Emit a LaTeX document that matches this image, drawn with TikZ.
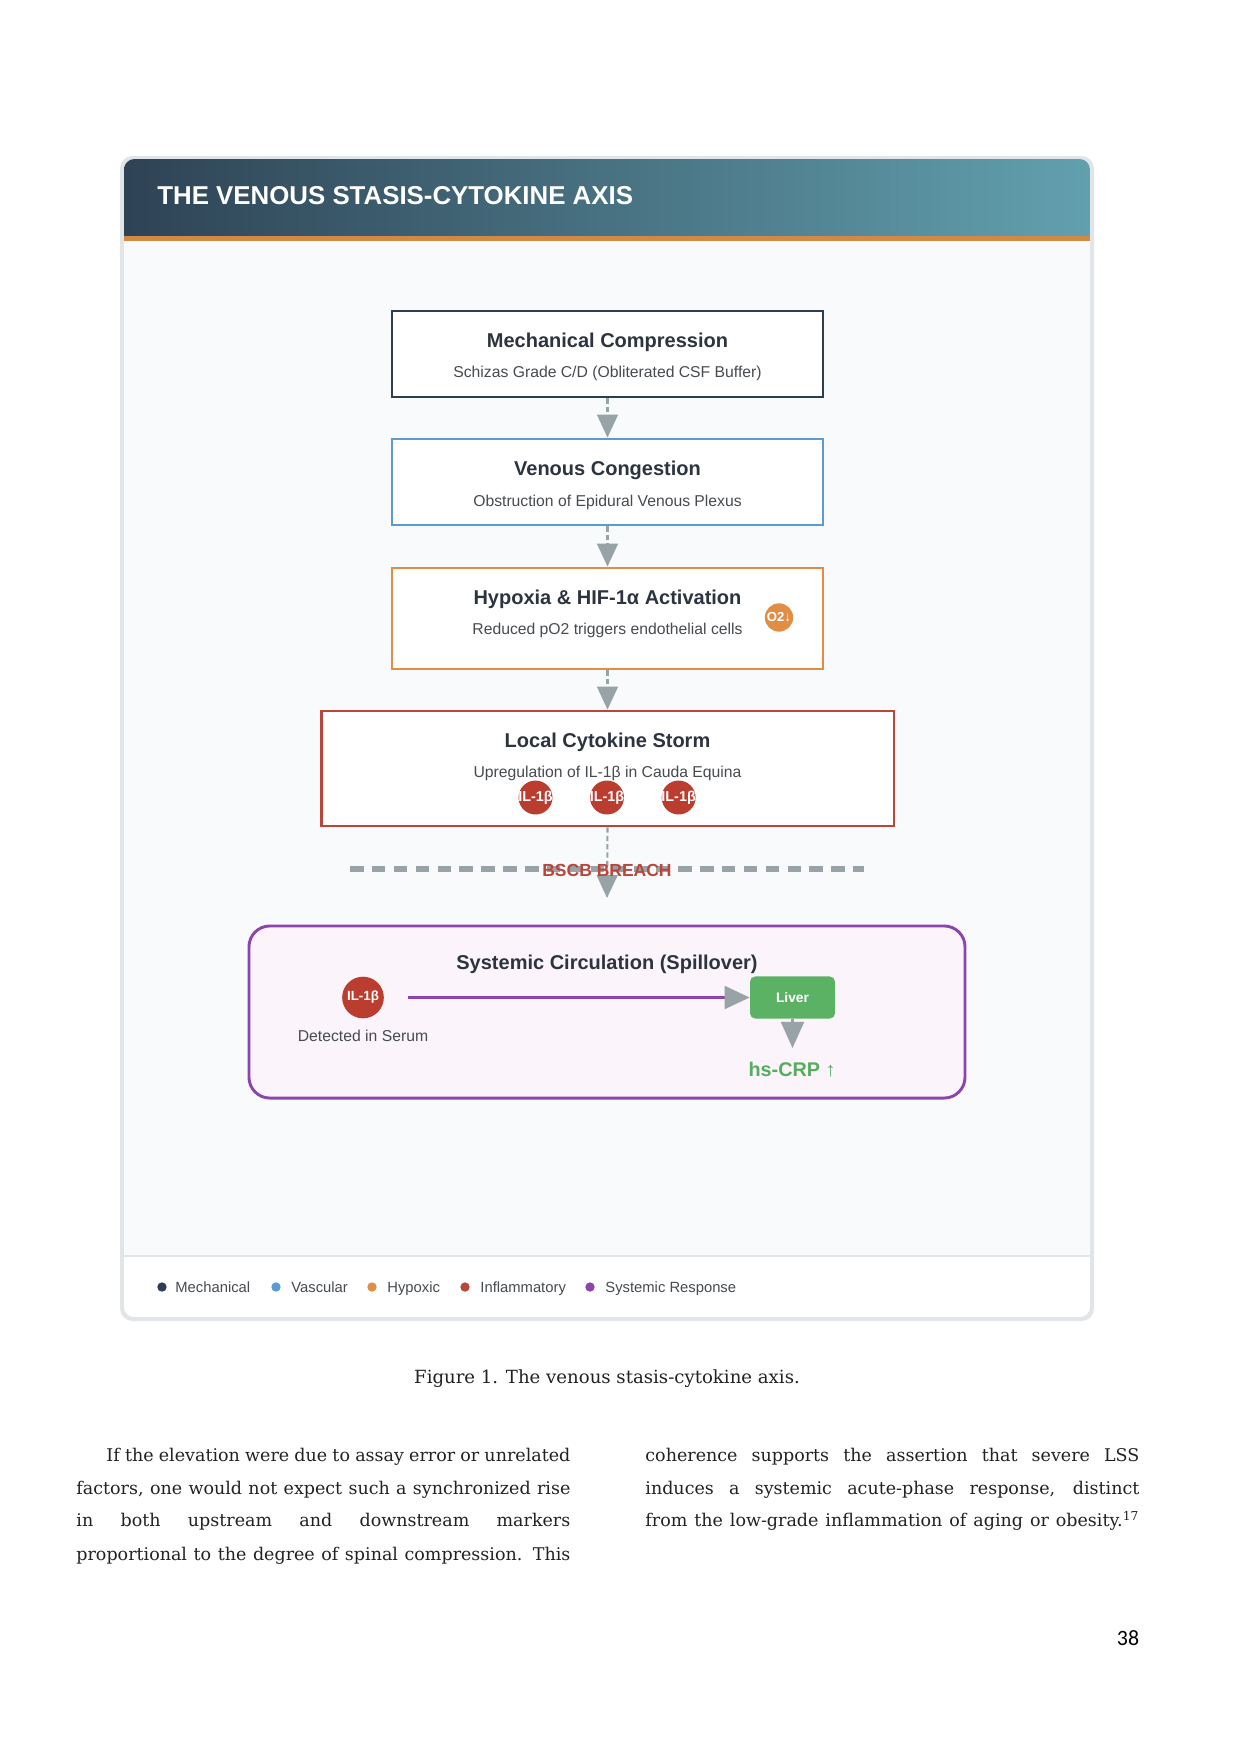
\documentclass[tikz,border=0pt]{standalone}
\usepackage{fontspec}
\setmainfont{Liberation Sans}
\newfontfamily\seriff{DejaVu Serif}
\newfontfamily\pagef{Carlito}
\usetikzlibrary{arrows.meta}
\definecolor{hdrL}{HTML}{2E4355}
\definecolor{hdrR}{HTML}{62A0AE}
\definecolor{hdrLine}{HTML}{D08A45}
\definecolor{cardBg}{HTML}{F8FAFC}
\definecolor{cardEdge}{HTML}{E2E5E8}
\definecolor{cMech}{HTML}{2C3E50}
\definecolor{cVasc}{HTML}{5A9BD5}
\definecolor{cHyp}{HTML}{E08E45}
\definecolor{cInfl}{HTML}{B9463B}
\definecolor{cIL}{HTML}{BB3D30}
\definecolor{cSys}{HTML}{8E44AD}
\definecolor{sysFill}{HTML}{FBF4FA}
\definecolor{cGreen}{HTML}{5BB264}
\definecolor{cCRP}{HTML}{55AE5E}
\definecolor{cArrow}{HTML}{97A3A6}
\definecolor{cTitle}{HTML}{2C3440}
\definecolor{cSub}{HTML}{474B50}
\definecolor{cBody}{HTML}{222222}
\begin{document}
\begin{tikzpicture}[x=0.48pt,y=-0.48pt,
  flowbox/.style={draw, line width=1.4pt, fill=white, inner sep=0},
  boxtitle/.style={text=cTitle, font=\bfseries\fontsize{9.6}{11}\selectfont, inner sep=0},
  boxsub/.style={text=cSub, font=\fontsize{7.55}{8.5}\selectfont, inner sep=0},
  ilcirc/.style={circle, fill=cIL, inner sep=0, minimum size=16.3pt, text=white, font=\bfseries\fontsize{6.9}{7}\selectfont},
  conn/.style={draw=cArrow, line width=1pt, dash pattern=on 2.5pt off 1.5pt, -{Triangle[length=11pt,width=10pt]}, color=cArrow},
  legdot/.style={circle, inner sep=0, minimum size=4.5pt},
  legtxt/.style={anchor=base west, inner sep=0, text=cSub, font=\fontsize{7.1}{8}\selectfont},
  bodyline/.style={anchor=base west, inner sep=0, text=cBody, font=\seriff\fontsize{8.4}{10}\selectfont}
]
\useasboundingbox (0,0) rectangle (1240,1754);
\fill[white] (0,0) rectangle (1240,1754);
% card
\fill[cardEdge, rounded corners=6pt] (120,156) rectangle (1094,1321);
\begin{scope}
\clip[rounded corners=5pt] (124,159) rectangle (1090,1317);
\fill[cardBg] (124,159) rectangle (1090,1317);
\shade[left color=hdrL, right color=hdrR] (124,159) rectangle (1090,237);
\fill[hdrLine] (124,236) rectangle (1090,241);
\fill[white] (124,1256) rectangle (1090,1317);
\draw[cardEdge, line width=0.8pt] (124,1256) -- (1090,1256);
\end{scope}
\node[anchor=west, text=white, inner sep=0, font=\bfseries\fontsize{12.4}{14}\selectfont] (title) at (157,196) {THE VENOUS STASIS-CYTOKINE AXIS};

% flow boxes
\node[flowbox, draw=cMech, minimum width=206.9pt, minimum height=41.3pt] (b1) at (607.5,354) {};
\node[flowbox, draw=cVasc, minimum width=206.9pt, minimum height=41.3pt] (b2) at (607.5,482) {};
\node[flowbox, draw=cHyp, minimum width=206.9pt, minimum height=48.5pt] (b3) at (607.5,618.5) {};
\node[flowbox, draw=cInfl, minimum width=275pt, minimum height=55.2pt] (b4) at (607.5,768.5) {};

\node[boxtitle] (t1) at (607.5,342.2) {Mechanical Compression};
\node[boxsub] (s1) at (607.5,373.4) {Schizas Grade C/D (Obliterated CSF Buffer)};
\node[boxtitle] (t2) at (607.5,470.2) {Venous Congestion};
\node[boxsub] (s2) at (607.5,502.4) {Obstruction of Epidural Venous Plexus};
\node[boxtitle] (t3) at (607.5,599.2) {Hypoxia \& HIF-1α Activation};
\node[boxsub] (s3) at (607.5,630.4) {Reduced pO2 triggers endothelial cells};
\node[circle, fill=cHyp, inner sep=0, minimum size=13.6pt, text=white, font=\bfseries\fontsize{6.3}{7}\selectfont] (o2) at (779,617.5) {\makebox[0pt]{O2↓}};
\node[boxtitle] (t4) at (607.5,742.2) {Local Cytokine Storm};
\node[boxsub] (s4) at (607.5,773.4) {Upregulation of IL-1β in Cauda Equina};
\node[ilcirc] (il1) at (535.5,797.5) {\makebox[0pt]{IL-1β}};
\node[ilcirc] (il2) at (607,797.5) {\makebox[0pt]{IL-1β}};
\node[ilcirc] (il3) at (678.6,797.5) {\makebox[0pt]{IL-1β}};

\draw[conn] (b1.south) -- (b2.north);
\draw[conn] (b2.south) -- (b3.north);
\draw[conn] (b3.south) -- (b4.north);

% BSCB breach
\coordinate (bl) at (350,869);
\coordinate (br) at (864,869);
\draw[cArrow, line width=2.6pt, dash pattern=on 6.5pt off 4pt] (bl) -- (br);
\coordinate (btip) at (607,898);
\draw[conn] (b4.south) -- (btip);
\node[text=cInfl, inner sep=0, font=\bfseries\fontsize{8.4}{10}\selectfont] (bscb) at (607,870) {BSCB BREACH};

% systemic box
\node[draw=cSys, line width=1.4pt, fill=sysFill, rounded corners=10pt, minimum width=343.7pt, minimum height=82.6pt, inner sep=0] (sys) at (607,1012) {};
\node[boxtitle] (tsys) at (607,964.2) {Systemic Circulation (Spillover)};
\node[ilcirc, minimum size=20pt, font=\bfseries\fontsize{6.4}{7}\selectfont] (ils) at (363,997.5) {\makebox[0pt]{IL-1β}};
\node[boxsub] (det) at (363,1036) {Detected in Serum};
\node[fill=cGreen, rounded corners=2.5pt, minimum width=40.8pt, minimum height=20.2pt, inner sep=0, text=white, font=\bfseries\fontsize{6.6}{7}\selectfont] (liver) at (792.5,997.5) {Liver};
\draw[cSys, line width=1.2pt, -{Triangle[length=12pt,width=11pt,color=cArrow]}] ([xshift=11.5pt]ils.east) -- (liver.west);
\node[text=cCRP, inner sep=0, font=\bfseries\fontsize{9.5}{11}\selectfont] (crp) at (792,1070) {hs-CRP ↑};
\draw[cArrow, line width=1pt, -{Triangle[length=12.5pt,width=11pt]}] (liver.south) -- (liver.south |- 0,1048);

% legend
\node[legdot, fill=cMech] (d1) at (162,1287) {};
\node[legtxt] (l1) at (175,1292) {Mechanical};
\node[legdot, fill=cVasc] (d2) at (276,1287) {};
\node[legtxt] (l2) at (291,1292) {Vascular};
\node[legdot, fill=cHyp] (d3) at (372,1287) {};
\node[legtxt] (l3) at (387,1292) {Hypoxic};
\node[legdot, fill=cInfl] (d4) at (465,1287) {};
\node[legtxt] (l4) at (480,1292) {Inflammatory};
\node[legdot, fill=cSys] (d5) at (590,1287) {};
\node[legtxt] (l5) at (605,1292) {Systemic Response};

% caption
\node[inner sep=0, text=cBody, font=\seriff\fontsize{8.7}{10}\selectfont] (cap) at (607,1379) {Figure 1. The venous stasis-cytokine axis.};

% body text
\node[bodyline] (p1) at (106,1461) {\makebox[222.7pt][s]{If the elevation were due to assay error or unrelated}};
\node[bodyline] (p2) at (76,1494) {\makebox[237.1pt][s]{factors, one would not expect such a synchronized rise}};
\node[bodyline] (p3) at (76,1526) {\makebox[237.1pt][s]{in both upstream and downstream markers}};
\node[bodyline] (p4) at (76,1560) {\makebox[237.1pt][s]{proportional to the degree of spinal compression. This}};
\node[bodyline] (q1) at (645,1461) {\makebox[237.1pt][s]{coherence supports the assertion that severe LSS}};
\node[bodyline] (q2) at (645,1494) {\makebox[237.1pt][s]{induces a systemic acute-phase response, distinct}};
\node[bodyline] (q3) at (645,1526) {\makebox[237.1pt][s]{from the low-grade inflammation of aging or obesity.\textsuperscript{17}}};

\node[inner sep=0, text=black, font=\pagef\fontsize{10.5}{12}\selectfont] (pg) at (1128,1638) {38};
\end{tikzpicture}
\end{document}
